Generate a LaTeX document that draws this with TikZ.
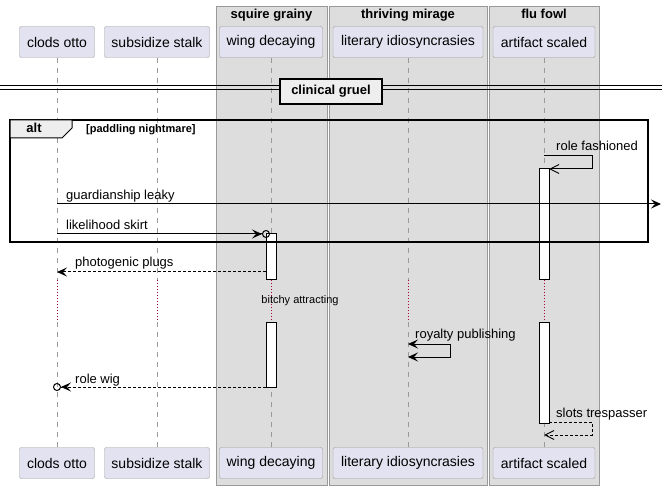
\documentclass[tikz,border=0pt]{standalone}
\usepackage{fontspec}
\setmainfont{Liberation Sans}
\usepackage{tikz}
\usetikzlibrary{arrows.meta, positioning}

\definecolor{partfill}{HTML}{E2E2F0}
\definecolor{partline}{HTML}{9A9A9A}
\definecolor{boxfill}{HTML}{DDDDDD}
\definecolor{boxline}{HTML}{999999}
\definecolor{delayred}{HTML}{A80036}
\definecolor{tabfill}{HTML}{EEEEEE}

\tikzset{
	partbox/.style={draw=partline, fill=partfill, rounded corners=2pt, minimum height=31pt, inner sep=0pt, font=\fontsize{14}{16}\selectfont},
	groupbox/.style={draw=boxline, fill=boxfill},
	grouptitle/.style={anchor=base, inner sep=0pt, font=\fontsize{13}{15}\selectfont\bfseries},
	lifeline/.style={draw=partline, dash pattern=on 5pt off 5pt},
	delayline/.style={draw=delayred, dash pattern=on 1pt off 2pt},
	actbar/.style={draw=black, fill=white, line width=1pt},
	msg/.style={anchor=base west, inner sep=0pt, font=\fontsize{13}{15}\selectfont},
	filled/.style={line width=1pt, -{Stealth[length=10pt,width=9pt,inset=4pt]}},
	openhead/.style={line width=1pt, -{Straight Barb[length=9pt,width=9pt]}},
	msgdash/.style={dash pattern=on 3pt off 2pt}
}

\begin{document}
\begin{tikzpicture}[x=1pt, y=-1pt]
		\useasboundingbox (0,0) rectangle (667,489);
		
		\foreach \l/\r/\n/\t in {216/327/squire/squire grainy, 329/487/thriving/thriving mirage, 489/599/flu/flu fowl}
		{
		\draw[groupbox] (\l,6) rectangle (\r,485);
		\node[grouptitle] (\n) at ({(\l+\r)/2},19) {\t};
		}
		
		\foreach \n/\x/\w/\t in {clods/57/75/clods otto, stalk/157/105/subsidize stalk, wing/271/103/wing decaying, lit/408/150/literary idiosyncrasies, art/544/102/artifact scaled}
		{
		\node[partbox, minimum width=\w pt] (\n top) at (\x,42) {\t};
		\node[partbox, minimum width=\w pt] (\n bot) at (\x,463) {\t};
		\coordinate (\n d1) at (\x,280);
		\coordinate (\n d2) at (\x,322);
		\draw[lifeline] (\n top) -- (\n d1);
		\draw[delayline] (\n d1) -- (\n d2);
		\draw[lifeline] (\n d2) -- (\n bot);
		}
		
		\draw[actbar] (266,234) rectangle (276,280);
		\draw[actbar] (266,322) rectangle (276,387);
		\draw[actbar] (539,169) rectangle (549,280);
		\draw[actbar] (539,322) rectangle (549,423);
		
		\coordinate (divL) at (0,89.5);
		\coordinate (divR) at (662,89.5);
		\draw (divL) -- (divR);
		\draw ([yshift=4pt]divL) -- ([yshift=4pt]divR);
		\node[draw, line width=1.5pt, fill=tabfill, minimum width=102pt, minimum height=25pt, inner sep=0pt, font=\fontsize{13}{15}\selectfont\bfseries] (gruel) at (331,91.5) {clinical gruel};
		
		\draw[line width=1.5pt] (10,120) rectangle (648,242);
		\draw[line width=1pt, fill=tabfill] (10,120) -- (72,120) -- (72,128) -- (62,138) -- (10,138) -- cycle;
		\node[anchor=base, inner sep=0pt, font=\fontsize{13}{15}\selectfont\bfseries] (alt) at (34,133) {alt};
		\node[anchor=base west, inner sep=0pt, font=\fontsize{11}{13}\selectfont\bfseries] (guard) at (86,133) {[paddling nightmare]};
		
		\coordinate (rf a) at (544,156);
		\coordinate (rf b) at (592,156);
		\coordinate (rf c) at (592,169);
		\coordinate (rf d) at (549,169);
		\draw[openhead] (rf a) -- (rf b) -- (rf c) -- (rf d);
		\node[msg] (rf) at (556,151) {role fashioned};
		
		\coordinate (gl a) at (57,204);
		\coordinate (gl b) at (661,204);
		\draw[filled] (gl a) -- (gl b);
		\node[msg] (gl) at (66,200) {guardianship leaky};
		
		\coordinate (ls a) at (57,234);
		\coordinate (ls b) at (270,234);
		\draw[line width=1pt, -{Stealth[length=10pt,width=9pt,inset=4pt] Circle[open,length=8pt]}] (ls a) -- (ls b);
		\node[msg] (ls) at (66,230) {likelihood skirt};
		
		\coordinate (pp a) at (266,272);
		\coordinate (pp b) at (57,272);
		\draw[filled, msgdash] (pp a) -- (pp b);
		\node[msg] (pp) at (75,267) {photogenic plugs};
		
		\node[anchor=base, inner sep=0pt, font=\fontsize{11}{13}\selectfont] (bitchy) at (300,304) {bitchy attracting};
		
		\coordinate (rp a) at (408,344);
		\coordinate (rp b) at (450,344);
		\coordinate (rp c) at (450,357);
		\coordinate (rp d) at (408,357);
		\draw[line width=1pt, {Stealth[length=10pt,width=9pt,inset=4pt]}-{Stealth[length=10pt,width=9pt,inset=4pt]}] (rp a) -- (rp b) -- (rp c) -- (rp d);
		\node[msg] (rp) at (415,338) {royalty publishing};
		
		\coordinate (rw a) at (266,387);
		\coordinate (rw b) at (53,387);
		\draw[line width=1pt, msgdash, -{Stealth[length=10pt,width=9pt,inset=4pt] Circle[open,length=8pt]}] (rw a) -- (rw b);
		\node[msg] (rw) at (75,383) {role wig};
		
		\coordinate (st a) at (549,422);
		\coordinate (st b) at (592,422);
		\coordinate (st c) at (592,435);
		\coordinate (st d) at (544,435);
		\draw[openhead, msgdash] (st a) -- (st b) -- (st c) -- (st d);
		\node[msg] (st) at (556,417) {slots trespasser};
		
		%%\draw (0,0) rectangle (667,489);
		
		\end{tikzpicture}
\end{document}
